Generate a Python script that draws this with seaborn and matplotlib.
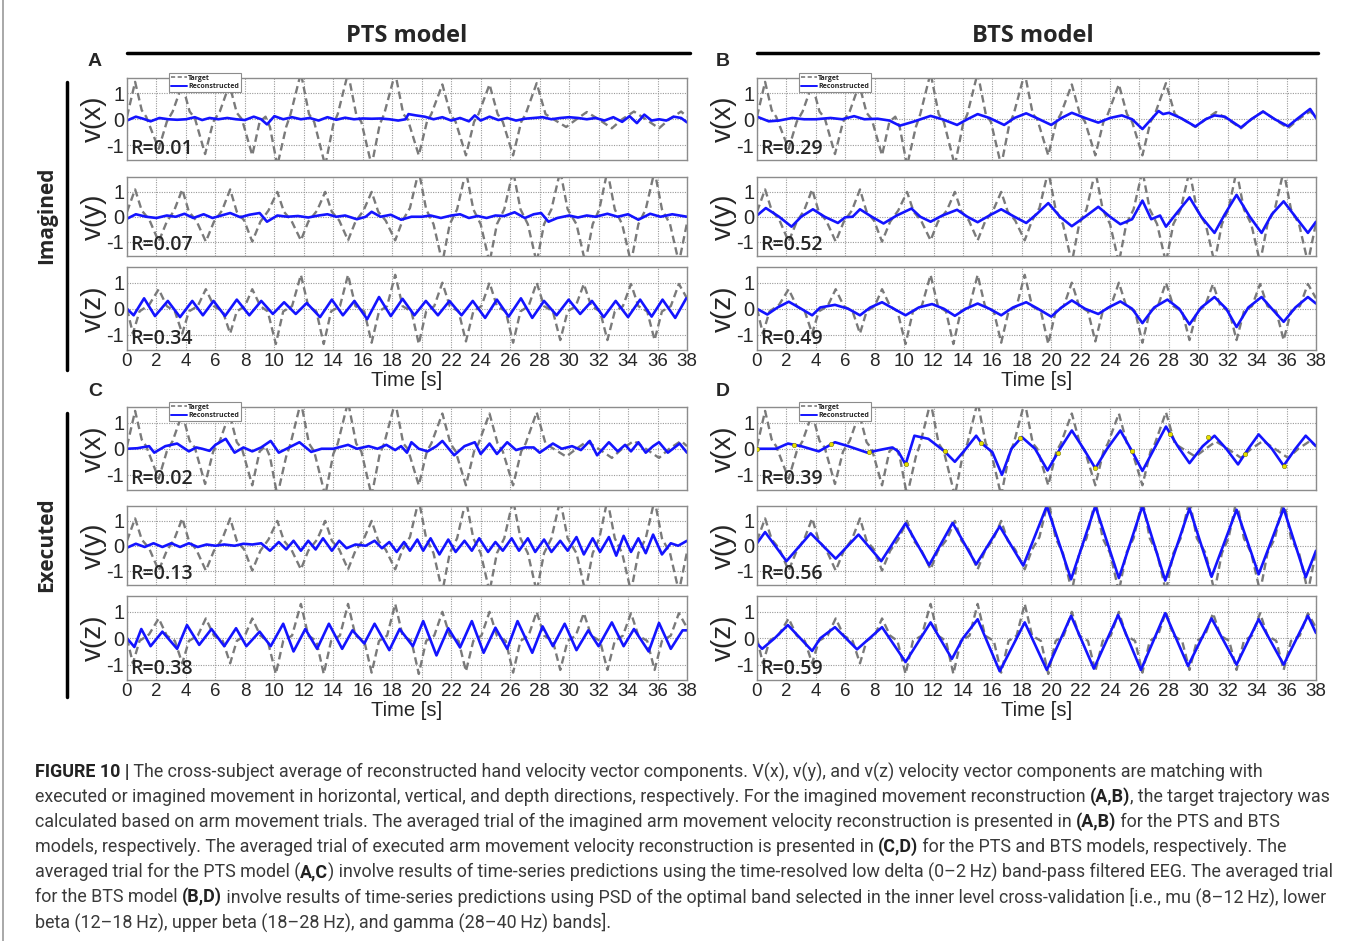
import matplotlib
matplotlib.use("Agg")
import matplotlib.pyplot as plt
import pandas as pd
import seaborn as sns
from matplotlib.lines import Line2D

# ---- data: (time [s], velocity) knots ----
target_x = [(0, 0.1), (0.55, 1.45), (1.0, 0.35), (1.3, 0.1), (2.15, -1.15), (2.7, -0.1), (3.1, 0.3), (3.75, 1.35),
            (4.25, 0.3), (4.6, 0.05), (5.3, -1.35), (5.85, -0.1), (6.3, 0.3), (6.95, 1.35), (7.45, 0.25), (7.8, 0.0),
            (8.5, -1.4), (9.0, -0.1), (9.4, 0.1), (9.7, -0.3), (10.2, -1.8), (10.8, -0.3), (11.1, 0.2), (11.8, 1.8),
            (12.35, 0.2), (12.7, -0.1), (13.45, -1.8), (14.0, -0.2), (14.3, 0.2), (15.0, 1.8), (15.55, 0.2),
            (15.9, -0.1), (16.6, -1.8), (17.15, -0.2), (17.45, 0.2), (18.2, 1.8), (18.75, 0.2), (19.05, 0.0),
            (19.8, -1.4), (20.35, -0.1), (20.65, 0.2), (21.4, 1.35), (21.95, 0.2), (22.3, -0.1), (23.0, -1.4),
            (23.55, -0.1), (23.85, 0.2), (24.6, 1.35), (25.15, 0.2), (25.5, -0.1), (26.2, -1.4), (26.75, -0.1),
            (27.05, 0.2), (27.8, 1.4), (28.4, 0.2), (28.8, 0.05), (29.8, -0.3), (30.5, 0.0), (31.2, 0.28),
            (32.0, 0.0), (32.9, -0.35), (33.6, 0.0), (34.4, 0.3), (35.2, 0.0), (36.1, -0.35), (36.8, 0.0),
            (37.6, 0.3), (38.0, 0.1)]
target_y = [(0, 0.2), (0.55, 1.1), (1.0, 0.25), (1.5, -0.1), (2.15, -1.0), (2.7, -0.2), (3.2, 0.25), (3.75, 1.1),
            (4.2, 0.2), (4.7, -0.15), (5.35, -1.0), (5.9, -0.2), (6.45, 0.25), (7.0, 1.1), (7.45, 0.2), (7.95, -0.15),
            (8.5, -1.0), (9.05, -0.2), (9.6, 0.25), (10.2, 1.0), (10.65, 0.2), (11.15, -0.15), (11.8, -0.95),
            (12.3, -0.2), (12.9, 0.25), (13.45, 1.0), (13.9, 0.2), (14.4, -0.15), (15.0, -0.95), (15.5, -0.2),
            (16.05, 0.25), (16.6, 1.0), (17.05, 0.2), (17.55, -0.15), (18.2, -0.95), (18.7, -0.15), (19.2, 0.35),
            (19.8, 1.85), (20.3, 0.3), (20.8, -0.3), (21.4, -1.85), (21.9, -0.3), (22.4, 0.3), (23.0, 1.85),
            (23.5, 0.3), (24.0, -0.3), (24.6, -1.85), (25.1, -0.3), (25.6, 0.3), (26.2, 1.85), (26.7, 0.3),
            (27.2, -0.3), (27.8, -1.85), (28.3, -0.3), (28.8, 0.3), (29.4, 1.85), (29.9, 0.3), (30.5, -0.3),
            (31.1, -1.85), (31.6, -0.3), (32.05, 0.3), (32.6, 1.85), (33.1, 0.3), (33.6, -0.3), (34.2, -1.85),
            (34.7, -0.3), (35.2, 0.3), (35.8, 1.85), (36.3, 0.3), (36.85, -0.3), (37.45, -1.85), (38.0, -0.25)]
target_z = [(0, 0.0), (0.4, -0.95), (0.85, -0.1), (1.5, 0.15), (2.15, 0.75), (2.7, 0.1), (3.25, -0.1), (3.75, -0.95),
            (4.2, -0.1), (4.8, 0.1), (5.35, 0.75), (5.9, 0.1), (6.5, -0.1), (7.0, -0.95), (7.45, -0.1), (8.0, 0.1),
            (8.5, 0.75), (9.05, 0.1), (9.55, -0.1), (10.1, -1.35), (10.6, -0.1), (11.2, 0.1), (11.8, 1.3),
            (12.3, 0.1), (12.85, -0.1), (13.35, -1.35), (13.85, -0.1), (14.45, 0.1), (15.0, 1.3), (15.5, 0.1),
            (16.1, -0.1), (16.6, -1.3), (17.1, -0.1), (17.65, 0.1), (18.2, 1.3), (18.7, 0.1), (19.3, -0.1),
            (19.8, -1.35), (20.3, -0.1), (20.85, 0.1), (21.4, 1.0), (21.9, 0.1), (22.5, -0.1), (23.0, -1.25),
            (23.5, -0.1), (24.05, 0.1), (24.6, 1.0), (25.1, 0.1), (25.7, -0.1), (26.2, -1.3), (26.7, -0.1),
            (27.25, 0.1), (27.8, 1.0), (28.3, 0.1), (28.9, -0.1), (29.4, -1.2), (29.9, -0.1), (30.45, 0.1),
            (31.0, 0.95), (31.5, 0.1), (32.1, -0.1), (32.6, -1.2), (33.1, -0.1), (33.65, 0.1), (34.2, 0.95),
            (34.7, 0.1), (35.3, -0.1), (35.8, -1.2), (36.3, -0.1), (36.9, 0.1), (37.45, 0.95), (38.0, 0.4)]

# A: PTS imagined
rec_A_x = [(0, -0.05), (0.6, 0.1), (1.1, 0.02), (1.6, -0.08), (2.2, 0.05), (2.8, 0.0), (3.4, -0.02), (4.0, 0.0),
           (4.6, 0.08), (5.1, -0.03), (5.6, 0.05), (6.2, 0.0), (6.8, 0.05), (7.4, 0.0), (8.0, -0.03), (8.6, 0.1),
           (9.1, 0.0), (9.5, -0.2), (10.0, 0.12), (10.6, 0.0), (11.2, 0.08), (11.8, 0.0), (12.4, 0.05),
           (13.0, -0.05), (13.6, 0.08), (14.2, -0.02), (14.8, 0.06), (15.4, 0.0), (16.0, 0.03), (16.6, 0.02),
           (17.2, 0.03), (17.8, 0.0), (18.4, -0.05), (18.9, 0.0), (19.1, 0.2), (19.6, 0.15), (20.2, 0.1),
           (20.8, 0.0), (21.4, 0.08), (22.0, -0.05), (22.6, 0.05), (23.2, -0.08), (23.6, 0.15), (24.0, -0.05),
           (24.6, 0.1), (25.2, -0.03), (25.8, 0.05), (26.4, -0.05), (27.0, 0.02), (27.6, 0.05), (28.2, 0.08),
           (28.8, 0.0), (29.4, 0.05), (30.0, 0.08), (30.6, 0.05), (31.2, 0.0), (31.8, 0.05), (32.4, -0.05),
           (33.0, 0.08), (33.6, -0.1), (34.1, 0.12), (34.6, -0.15), (35.1, 0.18), (35.6, -0.05), (36.1, 0.0),
           (36.6, -0.05), (37.1, 0.1), (37.6, 0.05), (38.0, -0.12)]
rec_A_y = [(0, -0.08), (0.6, 0.1), (1.3, 0.0), (2.0, -0.05), (2.7, 0.05), (3.3, 0.0), (3.9, 0.12), (4.5, -0.05),
           (5.2, 0.1), (5.8, -0.05), (6.4, 0.05), (7.0, 0.15), (7.7, -0.02), (8.3, 0.08), (9.0, 0.15), (9.5, -0.2),
           (10.2, 0.05), (10.9, 0.0), (11.6, 0.03), (12.3, -0.03), (13.0, 0.05), (13.6, 0.1), (14.2, 0.0),
           (14.8, 0.05), (15.6, -0.1), (16.2, 0.0), (16.6, 0.2), (17.2, 0.0), (17.9, 0.08), (18.6, -0.12),
           (19.3, 0.0), (20.0, 0.0), (20.6, 0.05), (21.3, -0.05), (22.0, 0.05), (22.6, 0.1), (23.2, -0.05),
           (23.8, 0.03), (24.4, -0.05), (25.0, 0.05), (25.6, 0.03), (26.3, 0.18), (27.0, -0.05), (27.6, 0.1),
           (28.1, 0.15), (28.6, -0.2), (29.2, -0.05), (30.0, 0.05), (30.6, -0.03), (31.2, 0.05), (31.8, 0.0),
           (32.6, 0.12), (33.3, 0.0), (34.0, 0.1), (34.7, -0.12), (35.5, 0.12), (36.2, 0.0), (37.0, 0.1), (38.0, 0.0)]
rec_A_z = [(0, 0.0), (0.45, -0.25), (1.16, 0.4), (1.9, -0.28), (2.77, 0.3), (3.6, -0.32), (4.43, 0.3), (5.15, -0.25),
           (5.87, 0.3), (6.65, -0.28), (7.45, 0.35), (8.3, -0.25), (9.11, 0.3), (9.9, -0.2), (10.66, 0.25),
           (11.45, -0.2), (12.2, 0.22), (13.1, -0.32), (13.9, 0.35), (14.65, -0.25), (15.43, 0.3), (16.3, -0.4),
           (17.1, 0.45), (17.9, -0.28), (18.7, 0.38), (19.5, -0.25), (20.28, 0.3), (21.1, -0.25), (21.88, 0.3),
           (22.7, -0.25), (23.46, 0.3), (24.3, -0.35), (25.1, 0.35), (25.9, -0.3), (26.73, 0.4), (27.5, -0.35),
           (28.3, 0.3), (29.15, -0.25), (29.97, 0.35), (30.75, -0.2), (31.55, 0.3), (32.35, -0.32), (33.16, 0.3),
           (34.0, -0.32), (34.82, 0.35), (35.6, -0.3), (36.34, 0.35), (37.2, -0.35), (37.95, 0.4)]

# B: BTS imagined
rec_B_x = [(0, 0.1), (0.8, -0.08), (1.5, -0.05), (2.4, 0.05), (3.2, 0.0), (4.0, 0.0), (5.0, 0.05), (5.8, 0.0),
           (6.6, 0.12), (7.3, 0.0), (8.2, 0.02), (9.0, -0.05), (9.7, -0.25), (10.6, -0.1), (11.8, 0.13), (12.6, 0.0),
           (13.6, -0.22), (14.3, 0.0), (15.0, 0.2), (15.8, 0.05), (16.8, -0.22), (17.5, 0.05), (18.3, 0.23),
           (19.0, 0.05), (20.0, -0.22), (20.7, 0.05), (21.4, 0.25), (22.3, 0.05), (23.2, -0.13), (24.0, 0.05),
           (24.8, 0.15), (25.5, 0.0), (26.2, -0.38), (26.8, 0.0), (27.3, 0.32), (27.6, 0.2), (28.0, 0.25),
           (28.8, 0.05), (29.8, -0.28), (30.5, 0.0), (31.1, 0.15), (31.8, 0.1), (32.9, -0.32), (33.6, 0.0),
           (34.4, 0.3), (35.2, 0.0), (36.1, -0.27), (36.8, 0.05), (37.6, 0.4), (38.0, 0.05)]
rec_B_y = [(0, 0.05), (0.6, 0.35), (1.5, 0.0), (2.35, -0.4), (3.0, 0.0), (3.8, 0.3), (4.6, 0.0), (5.5, -0.25),
           (6.0, -0.02), (6.5, 0.0), (7.0, 0.3), (7.8, 0.0), (8.6, -0.27), (9.5, 0.05), (10.5, 0.33), (11.1, 0.0),
           (11.8, -0.2), (12.6, 0.05), (13.6, 0.28), (14.3, 0.0), (15.0, -0.22), (15.8, 0.05), (16.6, 0.3),
           (17.5, 0.0), (18.3, -0.25), (19.0, 0.1), (19.8, 0.55), (20.6, 0.0), (21.4, -0.38), (22.3, 0.0),
           (23.2, 0.4), (24.0, 0.0), (24.7, -0.3), (25.5, -0.1), (26.2, 0.65), (26.8, -0.1), (27.4, 0.05),
           (27.8, -0.4), (28.6, 0.2), (29.4, 0.78), (30.2, 0.0), (31.1, -0.65), (31.8, 0.1), (32.6, 0.88),
           (33.5, 0.0), (34.3, -0.65), (35.0, 0.1), (35.8, 0.62), (36.6, 0.0), (37.45, -0.65), (38.0, -0.2)]
rec_B_z = [(0, 0.0), (0.7, -0.22), (1.4, 0.05), (2.16, 0.27), (3.0, 0.0), (3.75, -0.25), (4.3, 0.05), (5.3, 0.15),
           (6.2, 0.0), (7.0, -0.25), (7.7, 0.05), (8.5, 0.25), (9.3, 0.0), (10.1, -0.25), (11.0, 0.05), (11.9, 0.18),
           (12.7, 0.0), (13.45, -0.27), (14.2, 0.0), (15.0, 0.2), (15.8, 0.0), (16.6, -0.25), (17.4, 0.05),
           (18.3, 0.25), (19.1, 0.0), (20.0, -0.3), (20.7, 0.05), (21.4, 0.32), (22.3, 0.0), (23.2, -0.2),
           (23.9, 0.05), (24.7, 0.28), (25.5, 0.0), (26.2, -0.55), (27.0, 0.05), (27.9, 0.35), (28.7, 0.0),
           (29.4, -0.6), (30.2, 0.05), (31.1, 0.45), (31.9, 0.0), (32.6, -0.7), (33.4, 0.05), (34.3, 0.45),
           (35.0, 0.0), (35.8, -0.5), (36.6, 0.05), (37.45, 0.45), (38.0, 0.2)]

# C: PTS executed
rec_C_x = [(0, 0.0), (0.7, 0.02), (1.5, 0.1), (1.85, -0.15), (2.6, 0.1), (3.4, 0.2), (4.2, -0.1), (4.7, 0.05),
           (5.1, 0.0), (5.6, -0.08), (6.0, 0.15), (6.7, 0.38), (7.3, -0.15), (7.9, 0.05), (8.5, -0.1), (9.1, 0.05),
           (9.75, 0.3), (10.3, -0.15), (11.0, 0.05), (11.7, 0.25), (12.5, -0.12), (13.2, 0.0), (14.0, 0.0),
           (15.0, 0.15), (15.6, 0.0), (16.4, 0.1), (17.0, 0.0), (17.6, 0.15), (18.2, -0.05), (18.6, 0.1),
           (19.0, -0.15), (19.3, 0.25), (19.8, 0.0), (20.4, -0.1), (21.0, 0.1), (21.4, 0.3), (22.2, -0.25),
           (22.9, 0.1), (23.6, 0.25), (24.0, -0.2), (24.6, 0.2), (25.1, -0.2), (25.8, 0.25), (26.4, -0.05),
           (27.0, 0.05), (27.6, 0.05), (28.0, -0.15), (28.9, 0.2), (29.5, 0.0), (30.2, 0.1), (30.8, -0.05),
           (31.4, 0.3), (31.9, -0.25), (32.7, 0.25), (33.3, -0.1), (33.8, 0.15), (34.2, -0.1), (34.7, 0.25),
           (35.2, -0.15), (35.7, 0.1), (36.1, 0.25), (36.7, -0.15), (37.5, 0.2), (38.0, -0.15)]
rec_C_y = [(0, -0.08), (0.6, 0.08), (1.2, -0.05), (1.8, 0.1), (2.4, -0.05), (3.0, 0.1), (3.6, -0.05), (4.2, 0.1),
           (4.8, -0.05), (5.4, 0.05), (6.0, 0.0), (6.6, 0.05), (7.3, 0.0), (7.9, 0.08), (8.5, 0.05), (9.1, 0.1),
           (9.7, -0.2), (10.3, 0.15), (10.8, -0.15), (11.3, 0.2), (11.8, -0.2), (12.3, 0.2), (12.8, -0.15),
           (13.3, 0.3), (13.9, -0.2), (14.4, 0.2), (14.9, -0.1), (15.5, 0.05), (16.2, 0.0), (16.8, 0.2),
           (17.3, -0.1), (17.8, 0.15), (18.3, -0.25), (18.8, 0.15), (19.2, -0.2), (19.7, 0.25), (20.1, -0.2),
           (20.6, 0.3), (21.2, -0.35), (21.8, 0.25), (22.3, -0.25), (22.9, 0.2), (23.4, -0.2), (23.9, 0.3),
           (24.5, -0.25), (25.0, 0.15), (25.5, -0.2), (26.1, 0.3), (26.6, -0.2), (27.2, 0.3), (27.7, -0.25),
           (28.3, 0.25), (28.8, -0.25), (29.4, 0.2), (29.9, -0.2), (30.5, 0.35), (31.0, -0.35), (31.6, 0.3),
           (32.1, -0.25), (32.7, 0.35), (33.2, -0.4), (33.7, 0.4), (34.2, -0.25), (34.7, 0.3), (35.2, -0.3),
           (35.7, 0.45), (36.3, -0.35), (36.9, 0.1), (37.4, 0.0), (38.0, 0.2)]
rec_C_z = [(0, 0.0), (0.5, -0.33), (0.97, 0.35), (1.6, -0.3), (2.4, 0.25), (3.4, -0.4), (4.07, 0.5), (4.9, -0.25),
           (5.73, 0.35), (6.6, -0.3), (7.4, 0.38), (8.1, -0.3), (9.0, 0.25), (9.75, -0.3), (10.6, 0.55), (11.3, -0.5),
           (12.1, 0.35), (12.9, -0.4), (13.7, 0.55), (14.6, -0.4), (15.3, 0.3), (16.1, -0.2), (16.8, 0.55),
           (17.8, -0.45), (18.5, 0.35), (19.4, -0.3), (20.1, 0.65), (21.0, -0.65), (21.8, 0.38), (22.6, -0.35),
           (23.4, 0.65), (24.2, -0.55), (25.0, 0.4), (25.8, -0.4), (26.5, 0.65), (27.5, -0.55), (28.2, 0.45),
           (28.9, -0.3), (29.7, 0.55), (30.5, -0.45), (31.3, 0.3), (32.0, -0.3), (32.9, 0.6), (33.7, -0.3),
           (34.4, 0.35), (35.4, -0.5), (36.1, 0.58), (36.9, -0.4), (37.7, 0.3), (38.0, 0.3)]

# D: BTS executed
rec_D_x = [(0, 0.0), (1.3, 0.0), (2.1, 0.2), (3.0, 0.1), (4.2, -0.1), (5.3, 0.25), (6.2, 0.1), (7.5, -0.15),
           (8.3, -0.05), (9.2, 0.05), (9.6, -0.1), (10.1, -0.6), (10.7, 0.5), (11.65, 0.38), (12.75, -0.1),
           (13.45, -0.5), (14.2, 0.0), (14.9, 0.5), (15.25, 0.22), (15.5, 0.1), (16.0, -0.13), (16.65, -1.0),
           (17.3, 0.0), (18.0, 0.45), (18.9, 0.0), (19.75, -0.83), (20.6, 0.0), (21.4, 0.7), (22.2, 0.0),
           (23.0, -0.75), (23.8, 0.0), (24.7, 0.7), (25.5, -0.1), (26.2, -0.85), (27.0, 0.0), (27.8, 0.85),
           (28.6, 0.1), (29.4, -0.55), (30.3, 0.1), (31.1, 0.5), (31.9, 0.0), (32.7, -0.6), (33.4, 0.0),
           (34.1, 0.55), (35.0, 0.0), (35.8, -0.65), (36.6, 0.0), (37.3, 0.5), (38.0, 0.1)]
rec_D_y = [(0, 0.1), (0.55, 0.55), (2.0, -0.62), (3.65, 0.5), (5.35, -0.52), (6.9, 0.45), (8.45, -0.62), (10.1, 0.9),
           (11.7, -0.78), (13.3, 0.92), (14.9, -0.75), (16.5, 0.78), (18.1, -0.8), (19.7, 1.6), (21.35, -1.35),
           (23.0, 1.6), (24.6, -1.3), (26.2, 1.6), (27.75, -1.4), (29.4, 1.5), (30.9, -1.25), (32.6, 1.45),
           (34.1, -1.15), (35.8, 1.5), (37.3, -1.27), (38.0, -0.2)]
rec_D_z = [(0, -0.2), (0.35, -0.4), (1.2, 0.0), (2.1, 0.5), (3.75, -0.48), (4.3, 0.0), (5.3, 0.42), (6.8, -0.42),
           (8.5, 0.42), (10.1, -0.9), (11.8, 0.6), (13.25, -0.78), (14.0, 0.0), (15.0, 0.72), (16.5, -1.25),
           (18.2, 0.6), (19.7, -1.2), (21.35, 0.85), (22.9, -1.15), (24.55, 0.88), (26.1, -1.2), (27.75, 0.95),
           (29.3, -1.05), (30.9, 0.75), (32.6, -1.0), (34.1, 0.72), (35.8, -1.0), (37.45, 0.85), (38.0, 0.2)]
# small yellow markers seen on the D v(x) trace
marks_D_x = [(0, 0.0), (2.5, 0.15), (5.05, 0.2), (7.6, -0.12), (10.1, -0.6), (12.75, -0.1), (15.25, 0.22),
             (17.9, 0.4), (20.45, -0.15), (23.0, -0.75), (25.5, -0.1), (28.1, 0.55), (30.65, 0.45), (33.2, -0.2),
             (35.8, -0.65)]

r_values = {"A": ["R=0.01", "R=0.07", "R=0.34"], "B": ["R=0.29", "R=0.52", "R=0.49"],
            "C": ["R=0.02", "R=0.13", "R=0.38"], "D": ["R=0.39", "R=0.56", "R=0.59"]}
components = ["v(x)", "v(y)", "v(z)"]
targets = [target_x, target_y, target_z]
recon = {"A": [rec_A_x, rec_A_y, rec_A_z], "B": [rec_B_x, rec_B_y, rec_B_z],
         "C": [rec_C_x, rec_C_y, rec_C_z], "D": [rec_D_x, rec_D_y, rec_D_z]}

caption = [
    [("FIGURE 10 |", True), (" The cross-subject average of reconstructed hand velocity vector components. V(x), v(y), and v(z) velocity vector components are matching with", False)],
    [("executed or imagined movement in horizontal, vertical, and depth directions, respectively. For the imagined movement reconstruction ", False), ("(A,B)", True), (", the target trajectory was", False)],
    [("calculated based on arm movement trials. The averaged trial of the imagined arm movement velocity reconstruction is presented in ", False), ("(A,B)", True), (" for the PTS and BTS", False)],
    [("models, respectively. The averaged trial of executed arm movement velocity reconstruction is presented in ", False), ("(C,D)", True), (" for the PTS and BTS models, respectively. The", False)],
    [("averaged trial for the PTS model (", False), ("A,C", True), (") involve results of time-series predictions using the time-resolved low delta (0\u20132\u2009Hz) band-pass filtered EEG. The averaged trial", False)],
    [("for the BTS model ", False), ("(B,D)", True), (" involve results of time-series predictions using PSD of the optimal band selected in the inner level cross-validation [i.e., mu (8\u201312\u2009Hz), lower", False)],
    [("beta (12\u201318\u2009Hz), upper beta (18\u201328\u2009Hz), and gamma (28\u201340\u2009Hz) bands].", False)],
]

# ---- style ----
sns.set_style("white")
plt.rcParams["font.family"] = ["Liberation Sans", "DejaVu Sans"]
plt.rcParams["axes.unicode_minus"] = False

W, H = 1355, 941
fig = plt.figure(figsize=(W / 100, H / 100), dpi=100)
fig.patch.set_facecolor("white")


def px_axes(left, top, right, bottom):
    return fig.add_axes([left / W, 1 - bottom / H, (right - left) / W, (bottom - top) / H])


def fx(x):
    return x / W


def fy(y):
    return 1 - y / H


col_x = {"A": (127, 687), "C": (127, 687), "B": (757, 1316), "D": (757, 1316)}
rows = {"A": [(78, 160), (177, 256), (267, 350)], "B": [(78, 160), (177, 256), (267, 350)],
        "C": [(407, 490), (506, 585), (596, 680)], "D": [(407, 490), (506, 585), (596, 680)]}

grey = "#7a7a7a"
blue = "#1414ff"
small_font = ["Open Sans", "DejaVu Sans"]

for panel in ["A", "B", "C", "D"]:
    x0, x1 = col_x[panel]
    for i in range(3):
        top, bot = rows[panel][i]
        ax = px_axes(x0, top, x1, bot)
        tdf = pd.DataFrame(targets[i], columns=["t", "v"])
        rdf = pd.DataFrame(recon[panel][i], columns=["t", "v"])
        sns.lineplot(data=tdf, x="t", y="v", ax=ax, color=grey, linewidth=1.7,
                     linestyle=(0, (3.2, 1.8)), estimator=None, sort=False)
        sns.lineplot(data=rdf, x="t", y="v", ax=ax, color=blue, linewidth=1.9,
                     estimator=None, sort=False)
        if panel == "D" and i == 0:
            mdf = pd.DataFrame(marks_D_x, columns=["t", "v"])
            sns.scatterplot(data=mdf, x="t", y="v", ax=ax, color="#e8e000", s=10,
                            edgecolor="#777700", linewidth=0.4, zorder=5)
        ax.set_xlim(0, 38)
        ax.set_ylim(-1.58, 1.6)
        ax.set_xticks(range(0, 39, 2))
        ax.set_yticks([-1, 0, 1])
        ax.grid(True, linestyle=(0, (1, 1.2)), color="#9a9a9a", linewidth=0.8)
        ax.set_axisbelow(True)
        for s in ax.spines.values():
            s.set_color("#8c8c8c")
            s.set_linewidth(1.0)
        ax.tick_params(axis="both", direction="in", length=2, color="#8c8c8c", pad=3)
        ax.tick_params(axis="x", labelsize=13.5, pad=2)
        ax.tick_params(axis="y", labelsize=14.5, pad=2)
        ax.set_ylabel(components[i], fontsize=20, labelpad=0)
        if i == 2:
            ax.set_xlabel("Time [s]", fontsize=14.5, labelpad=1)
        else:
            ax.set_xlabel("")
            ax.set_xticklabels([])
        ax.text(0.005, 0.015, r_values[panel][i], transform=ax.transAxes, fontsize=14,
                family=small_font, fontweight="semibold", va="bottom", ha="left", zorder=6)
        if i == 0:
            handles = [Line2D([], [], color=grey, linestyle=(0, (2.5, 1.5)), linewidth=1.2),
                       Line2D([], [], color=blue, linewidth=1.4)]
            leg = ax.legend(handles, ["Target", "Reconstructed"], loc="upper left",
                            bbox_to_anchor=(42 / (x1 - x0), 1 + 5 / (bot - top)),
                            prop={"family": small_font, "weight": "bold", "size": 5},
                            handlelength=2.3, handletextpad=0.2, borderpad=0.25, labelspacing=0.2,
                            borderaxespad=0, fancybox=False, framealpha=1, edgecolor="#8c8c8c")
            leg.get_frame().set_linewidth(0.8)
            leg.set_zorder(10)

# ---- headers, panel letters, group labels ----
fig.text(fx(407), fy(36), "PTS model", ha="center", va="center", fontsize=17, fontweight="bold", family=small_font)
fig.text(fx(1033), fy(36), "BTS model", ha="center", va="center", fontsize=17, fontweight="bold", family=small_font)
fig.add_artist(Line2D([fx(127), fx(690)], [fy(53), fy(53)], color="black", linewidth=2.5))
fig.add_artist(Line2D([fx(757), fx(1318)], [fy(53), fy(53)], color="black", linewidth=2.5))

for letter, (lx, ly) in {"A": (95, 62), "B": (723, 62), "C": (95, 391), "D": (723, 391)}.items():
    fig.text(fx(lx), fy(ly), letter, ha="center", va="center", fontsize=14, fontweight="bold")

fig.text(fx(47), fy(215), "Imagined", ha="center", va="center", rotation=90, fontsize=15,
         fontweight="bold", family=small_font)
fig.text(fx(47), fy(545), "Executed", ha="center", va="center", rotation=90, fontsize=15,
         fontweight="bold", family=small_font)
fig.add_artist(Line2D([fx(67), fx(67)], [fy(82), fy(370)], color="black", linewidth=2.5))
fig.add_artist(Line2D([fx(67), fx(67)], [fy(413), fy(697)], color="black", linewidth=2.5))

# page border on the left
fig.add_artist(Line2D([fx(3), fx(3)], [fy(0), fy(941)], color="#9a9a9a", linewidth=1.2))

# ---- caption ----
cap_font = ["Roboto", "DejaVu Sans"]
renderer = fig.canvas.get_renderer()


def draw_line(x_px, y_px, segs, size):
    x = x_px
    for txt, bold in segs:
        t = fig.text(fx(x), fy(y_px), txt, fontsize=size, fontweight="bold" if bold else "normal",
                     family=cap_font, color="#222222" if bold else "#3a3a3a", va="center", ha="left")
        x += t.get_window_extent(renderer=renderer).width
    return x


# scale the caption so that its widest line spans the same width as in the figure
probe = fig.text(0, 0, "".join(s for s, _ in caption[1]), fontsize=12, family=cap_font)
w12 = probe.get_window_extent(renderer=renderer).width
probe.remove()
cap_size = 12 * 1290 / w12

for k, segs in enumerate(caption):
    draw_line(35, 772 + k * 25, segs, cap_size)

fig.savefig("out.png", dpi=100, facecolor="white")
